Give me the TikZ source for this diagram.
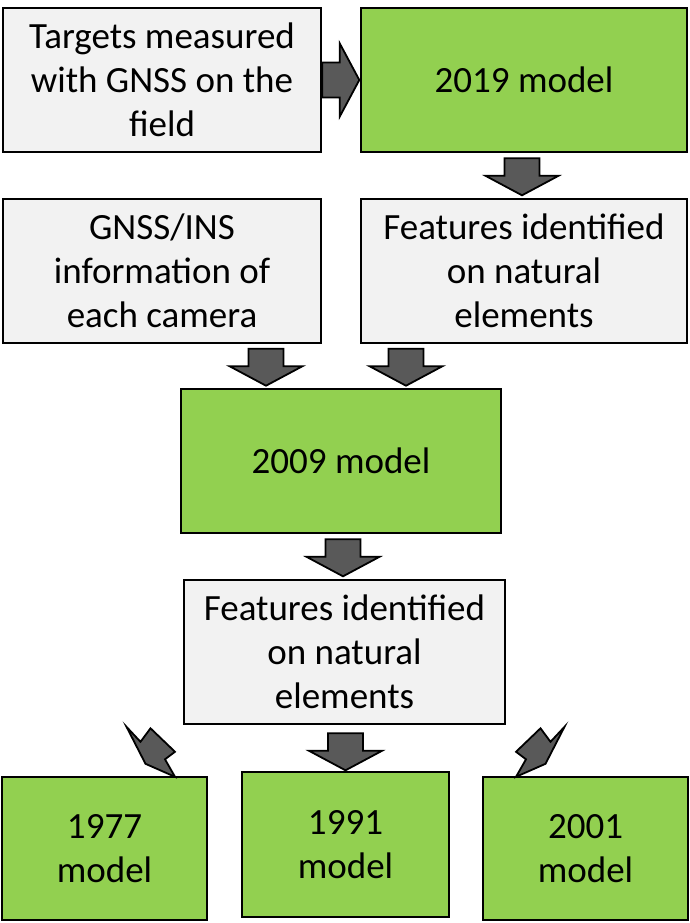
\documentclass[tikz,border=0pt]{standalone}
\usepackage{fontspec}
\setmainfont{Carlito}
\usetikzlibrary{calc}
\definecolor{boxgray}{HTML}{F2F2F2}
\definecolor{boxgreen}{HTML}{92D050}
\definecolor{arrowgray}{HTML}{595959}
\tikzset{
  basebox/.style={draw=black, line width=2.6pt, inner sep=0pt, align=center,
    font=\fontsize{37}{44}\selectfont},
  graybox/.style={basebox, fill=boxgray},
  greenbox/.style={basebox, fill=boxgreen},
  arrowstyle/.style={draw=black, line width=1.8pt, fill=arrowgray, line join=miter},
  blockarrow/.pic={\path[arrowstyle] (-17.5,0) -- (17.5,0) -- (17.5,17.5) -- (36.5,17.5)
     -- (0,37) -- (-36.5,17.5) -- (-17.5,17.5) -- cycle;},
  bentarrow/.pic={\path[arrowstyle] (-219,-126.5) -- (-205,-111.5) -- (-195,-125) -- (-170.5,-101.5)
     -- (-180.5,-94) -- (-170.5,-76.5) -- (-200,-89.5) -- cycle;}
}
\begin{document}
\begin{tikzpicture}[x=1pt,y=-1pt]
\useasboundingbox (0,0) rectangle (690,923);
\fill[white] (0,0) rectangle (690,923);
% boxes
\node[graybox, minimum width=318, minimum height=144] (t1) at (162,80) {Targets measured\\with GNSS on the\\field};
\node[greenbox, minimum width=326, minimum height=144] (m2019) at (524,80) {2019 model};
\node[graybox, minimum width=318, minimum height=144] (gnss) at (162,271) {GNSS/INS\\information of\\each camera};
\node[graybox, minimum width=326, minimum height=144] (feat1) at (524,271) {Features identified\\on natural\\elements};
\node[greenbox, minimum width=320, minimum height=144] (m2009) at (341,461) {2009 model};
\node[graybox, minimum width=321, minimum height=144] (feat2) at (344.5,652) {Features identified\\on natural\\elements};
\node[greenbox, minimum width=205, minimum height=143] (m1977) at (104.5,848.5) {1977\\model};
\node[greenbox, minimum width=207, minimum height=145] (m1991) at (345.5,844.5) {1991\\model};
\node[greenbox, minimum width=205, minimum height=143] (m2001) at (585.5,848.5) {2001\\model};
% block arrows
\pic[rotate=90] at (t1.east) {blockarrow};
\pic at ($(m2019.south)+(-2,5)$) {blockarrow};
\pic at ($(m2009.north)+(-75,-39)$) {blockarrow};
\pic at ($(m2009.north)+(65,-39)$) {blockarrow};
\pic at ($(m2009.south)+(2,5)$) {blockarrow};
\pic at ($(feat2.south)+(1,8)$) {blockarrow};
\coordinate (fc) at ($(feat2.south)+(1,128)$);
\pic at (fc) {bentarrow};
\pic[xscale=-1] at (fc) {bentarrow};
\end{tikzpicture}
\end{document}
